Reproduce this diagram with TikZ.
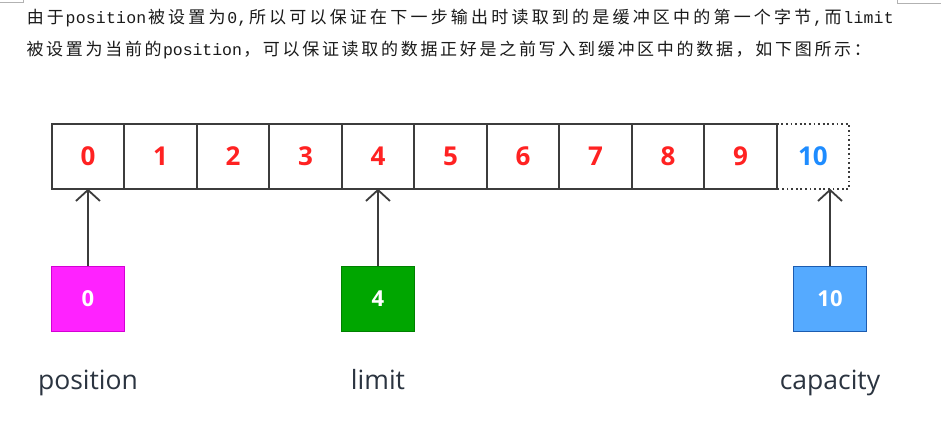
\documentclass[tikz,border=0pt]{standalone}
\usepackage{fontspec}
\setmainfont{Open Sans}
\newfontfamily\cjkf{Noto Sans CJK SC}
\newfontfamily\monof{Liberation Mono}
\usetikzlibrary{arrows.meta}
\definecolor{cellgray}{HTML}{3C3C3C}
\definecolor{digred}{HTML}{FF2222}
\definecolor{digblue}{HTML}{1E8CFF}
\definecolor{magfill}{HTML}{FF22FF}
\definecolor{magdraw}{HTML}{D400D4}
\definecolor{grnfill}{HTML}{00A600}
\definecolor{grndraw}{HTML}{008000}
\definecolor{blufill}{HTML}{55AAFF}
\definecolor{bludraw}{HTML}{1C5CB0}
\definecolor{lblcol}{HTML}{2B3440}
\definecolor{txtcol}{HTML}{1A1A1A}
\newlength\cjkw
\newlength\latw
\def\gridtext#1{\gridA#1\relax}
\def\gridA#1{\ifx\relax#1\else\gridchar{#1}\expandafter\gridA\fi}
\def\gridchar#1{\ifnum`#1>255 \makebox[\cjkw]{\cjkf\fontsize{17}{17}\selectfont #1}\else\makebox[\latw]{\monof\fontsize{16.5}{17}\selectfont #1}\fi}
\tikzset{
  cell/.style={draw=cellgray, line width=1.8pt, minimum width=72.5pt, minimum height=64.5pt,
    inner sep=0pt, outer sep=0pt, text=digred, font=\fontsize{26}{26}\selectfont\bfseries},
  lastcell/.style={cell, draw=none, text=digblue},
  dotline/.style={draw=cellgray, line width=1.8pt, dash pattern=on 1.8pt off 2.8pt},
  ptr/.style={line width=1.2pt, minimum width=73pt, minimum height=65pt, inner sep=0pt,
    text=white, font=\fontsize{22}{22}\selectfont\bfseries},
  pointer/.style={draw=cellgray, line width=1.8pt, -{Straight Barb[length=11pt,width=24pt,line width=1.8pt]}},
  lbl/.style={text=lblcol, font=\fontsize{26.5}{26.5}\selectfont, inner sep=0pt, anchor=base},
  para/.style={anchor=base west, inner sep=0pt, text=txtcol},
  cornermark/.style={draw=gray!60, line width=0.8pt}
}
\begin{document}
\begin{tikzpicture}[x=1pt, y=-1pt]
\useasboundingbox (0,0) rectangle (941,422);
\fill[white] (0,0) rectangle (941,422);
% page corner marks
\coordinate (m1) at (0,2.5); \coordinate (m2) at (23,2.5); \coordinate (m3) at (23,0);
\draw[cornermark] (m1) -- (m2) -- (m3);
\coordinate (m4) at (941,3); \coordinate (m5) at (897,3); \coordinate (m6) at (897,0);
\draw[cornermark] (m4) -- (m5) -- (m6);
% paragraph
\setlength\cjkw{20.2pt}\setlength\latw{10.1pt}
\node[para] (t1) at (25,24) {\gridtext{由于position被设置为0,所以可以保证在下一步输出时读取到的是缓冲区中的第一个字节,而limit}};
\setlength\cjkw{19.7pt}\setlength\latw{9.85pt}
\node[para] (t2) at (25,56) {\gridtext{被设置为当前的position，可以保证读取的数据正好是之前写入到缓冲区中的数据，如下图所示：}};
% cells
\foreach \i in {0,...,9} {
  \node[cell] (c\i) at ({51.7+72.5*(\i+0.5)},156.5) {\i};
}
\node[lastcell] (c10) at ({51.7+72.5*10.5},156.5) {10};
\draw[dotline] (c10.north west) -- (c10.north east) -- (c10.south east) -- (c10.south west);
% pointer boxes
\node[ptr, fill=magfill, draw=magdraw] (pos) at (88,299) {0};
\node[ptr, fill=grnfill, draw=grndraw] (lim) at (378,299) {4};
\node[ptr, fill=blufill, draw=bludraw] (cap) at (830,299) {10};
% arrows
\draw[pointer] (pos.north) -- (c0.south);
\draw[pointer] (lim.north) -- (c4.south);
\draw[pointer] (cap.north) -- (cap.north |- c10.south);
% labels
\node[lbl] (lpos) at (88,389) {position};
\node[lbl] (llim) at (378,389) {limit};
\node[lbl] (lcap) at (830,389) {capacity};
\end{tikzpicture}
\end{document}
